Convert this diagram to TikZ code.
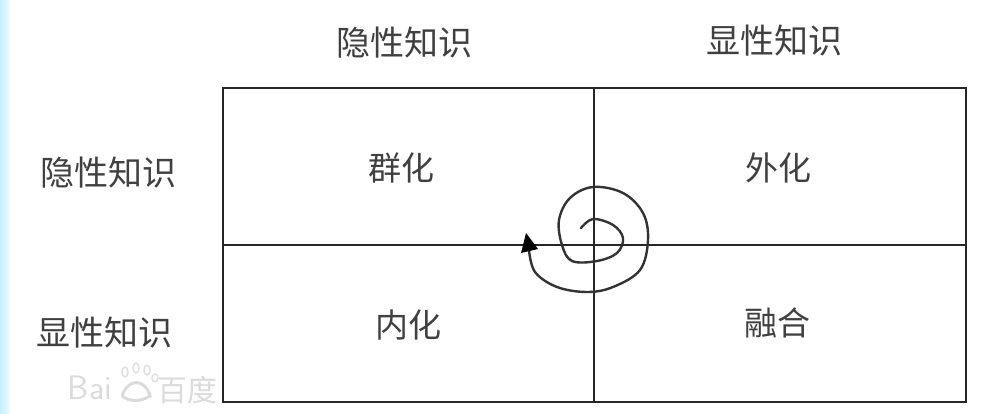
\documentclass[tikz,border=0pt]{standalone}
\usepackage{fontspec}
\newfontfamily\cjk{Noto Sans CJK SC}
\begin{document}
\begin{tikzpicture}[x=1pt,y=-1pt,
  lbl/.style={font=\cjk\fontsize{34}{34}\selectfont,text=black!75,inner sep=0pt,anchor=center},
  cell/.style={font=\cjk\fontsize{33}{33}\selectfont,text=black!75,inner sep=0pt,anchor=center},
  wm/.style={text=black!14,inner sep=0pt,anchor=center},
  gridline/.style={draw=black!85,line width=1.4pt},
  spiralline/.style={draw=black!80,line width=2.4pt,line join=round,line cap=round}]
\useasboundingbox (0,0) rectangle (982,414);
\fill[white] (0,0) rectangle (982,414);
\shade[left color=blue!30!cyan!22!white,right color=blue!10!cyan!8!white] (0,0) rectangle (10,414);
% watermark
\node[wm,font=\sffamily\fontsize{34}{34}\selectfont] (wma) at (90,388) {Bai};
\node[wm,font=\cjk\fontsize{30}{30}\selectfont] (wmb) at (187,390) {百度};
\foreach \px/\py/\rx/\ry in {125/372/3/5,136/368/3/5,147/370/3/5,155/378/3/4}
  \draw[black!12,line width=1.5pt] (\px,\py) ellipse [x radius=\rx,y radius=\ry];
\draw[black!14,line width=3pt] (122,396) .. controls (128,378) and (145,378) .. (150,396) .. controls (140,402) and (130,402) .. (122,396);
% grid
\coordinate (tl) at (223,88);
\coordinate (br) at (966,402);
\coordinate (tm) at (594,88);
\coordinate (bm) at (594,402);
\coordinate (lm) at (223,245);
\coordinate (rm) at (966,245);
\draw[gridline] (tl) rectangle (br);
\draw[gridline] (tm) -- (bm);
\draw[gridline] (lm) -- (rm);
% labels
\node[lbl] (c1) at (404,43) {隐性知识};
\node[lbl] (c2) at (774,41) {显性知识};
\node[lbl] (r1) at (108,173) {隐性知识};
\node[lbl] (r2) at (104,333) {显性知识};
\node[cell] (a) at (401,168) {群化};
\node[cell] (b) at (778,168) {外化};
\node[cell] (d) at (408,325) {内化};
\node[cell] (e) at (777,323) {融合};
% spiral
\draw[spiralline] plot[smooth,tension=0.6] coordinates {(581,228) (593,219) (613,225) (623,238) (617,253) (597,261) (572,261) (562,245) (559,220) (570,198) (593,187) (623,193) (643,213) (648,240) (640,270) (613,287) (587,292) (557,287) (535,272) (529,250)};
\fill[black] (526,233) -- (521,253) -- (538,249) -- cycle;
\end{tikzpicture}
\end{document}
